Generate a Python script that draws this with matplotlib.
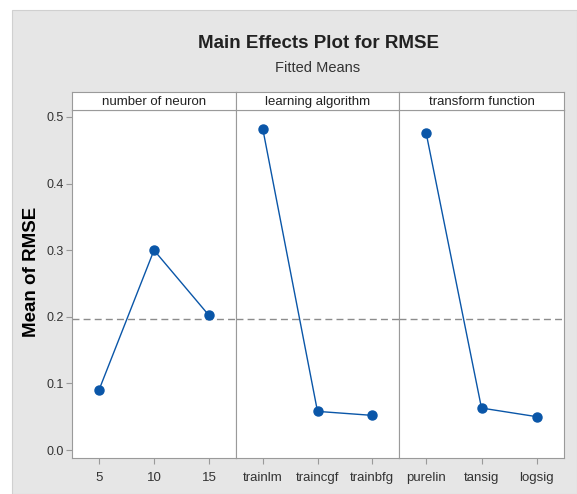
import matplotlib.pyplot as plt
from matplotlib.patches import Rectangle

# values
neuron_levels = ['5', '10', '15']
neuron_means = [0.090, 0.300, 0.202]
algo_levels = ['trainlm', 'traincgf', 'trainbfg']
algo_means = [0.482, 0.058, 0.052]
func_levels = ['purelin', 'tansig', 'logsig']
func_means = [0.476, 0.063, 0.050]
panel_titles = ['number of neuron', 'learning algorithm', 'transform function']
grand_mean = 0.197
y_ticks = [0.0, 0.1, 0.2, 0.3, 0.4, 0.5]

narrow = ['Liberation Sans', 'DejaVu Sans']
W, H = 577, 494
blue = '#0a56a8'
frame = '#9a9a9a'

fig = plt.figure(figsize=(W / 100, H / 100), dpi=100)
fig.patch.set_facecolor('white')
fig.patches.append(Rectangle((12 / W, 0), 1 - 12 / W, 1 - 10 / H, transform=fig.transFigure,
                             facecolor='#e6e6e6', edgecolor='#d0d0d0', lw=0.8, zorder=-10))

fig.text(318 / W, 1 - 44 / H, 'Main Effects Plot for RMSE', ha='center', va='center',
         fontsize=13.5, fontweight='bold', family=narrow, color='#222222')
fig.text(318 / W, 1 - 68 / H, 'Fitted Means', ha='center', va='center',
         fontsize=10.5, family=narrow, color='#333333')
fig.text(32 / W, 1 - 272 / H, 'Mean of RMSE', ha='center', va='center', rotation=90,
         fontsize=13.5, fontweight='bold', family=narrow)

edges = [72, 236, 399, 564]
top, bottom, strip_top = 110, 458, 92
data = [(neuron_levels, neuron_means), (algo_levels, algo_means), (func_levels, func_means)]

for i, (levels, means) in enumerate(data):
    x0, x1 = edges[i], edges[i + 1]
    ax = fig.add_axes([x0 / W, 1 - bottom / H, (x1 - x0) / W, (bottom - top) / H])
    xs = list(range(len(levels)))
    ax.axhline(grand_mean, color='#8c8c8c', lw=1, ls=(0, (5, 3)), zorder=1)
    ax.plot(xs, means, '-', color=blue, lw=1, zorder=2)
    ax.plot(xs, means, 'o', color=blue, ms=6.5, zorder=3)
    ax.set_xlim(-0.49, 2.49)
    ax.set_ylim(-0.012, 0.5105)
    ax.set_xticks(xs)
    ax.set_xticklabels(levels, family=narrow, fontsize=9.5)
    ax.set_yticks(y_ticks)
    if i == 0:
        ax.set_yticklabels(['%.1f' % v for v in y_ticks], family=narrow, fontsize=9)
    else:
        ax.tick_params(axis='y', left=False, labelleft=False)
    ax.tick_params(axis='both', direction='out', color=frame, length=4, labelcolor='#333333')
    ax.tick_params(axis='y', pad=2)
    ax.tick_params(axis='x', pad=6)
    for s in ax.spines.values():
        s.set_color(frame)
    # strip header
    sax = fig.add_axes([x0 / W, 1 - top / H, (x1 - x0) / W, (top - strip_top) / H])
    sax.set_xticks([])
    sax.set_yticks([])
    for s in sax.spines.values():
        s.set_color(frame)
    sax.text(0.5, 0.45, panel_titles[i], ha='center', va='center', transform=sax.transAxes,
             fontsize=9.5, family=narrow, color='#222222')

fig.savefig('out.png', dpi=100)
